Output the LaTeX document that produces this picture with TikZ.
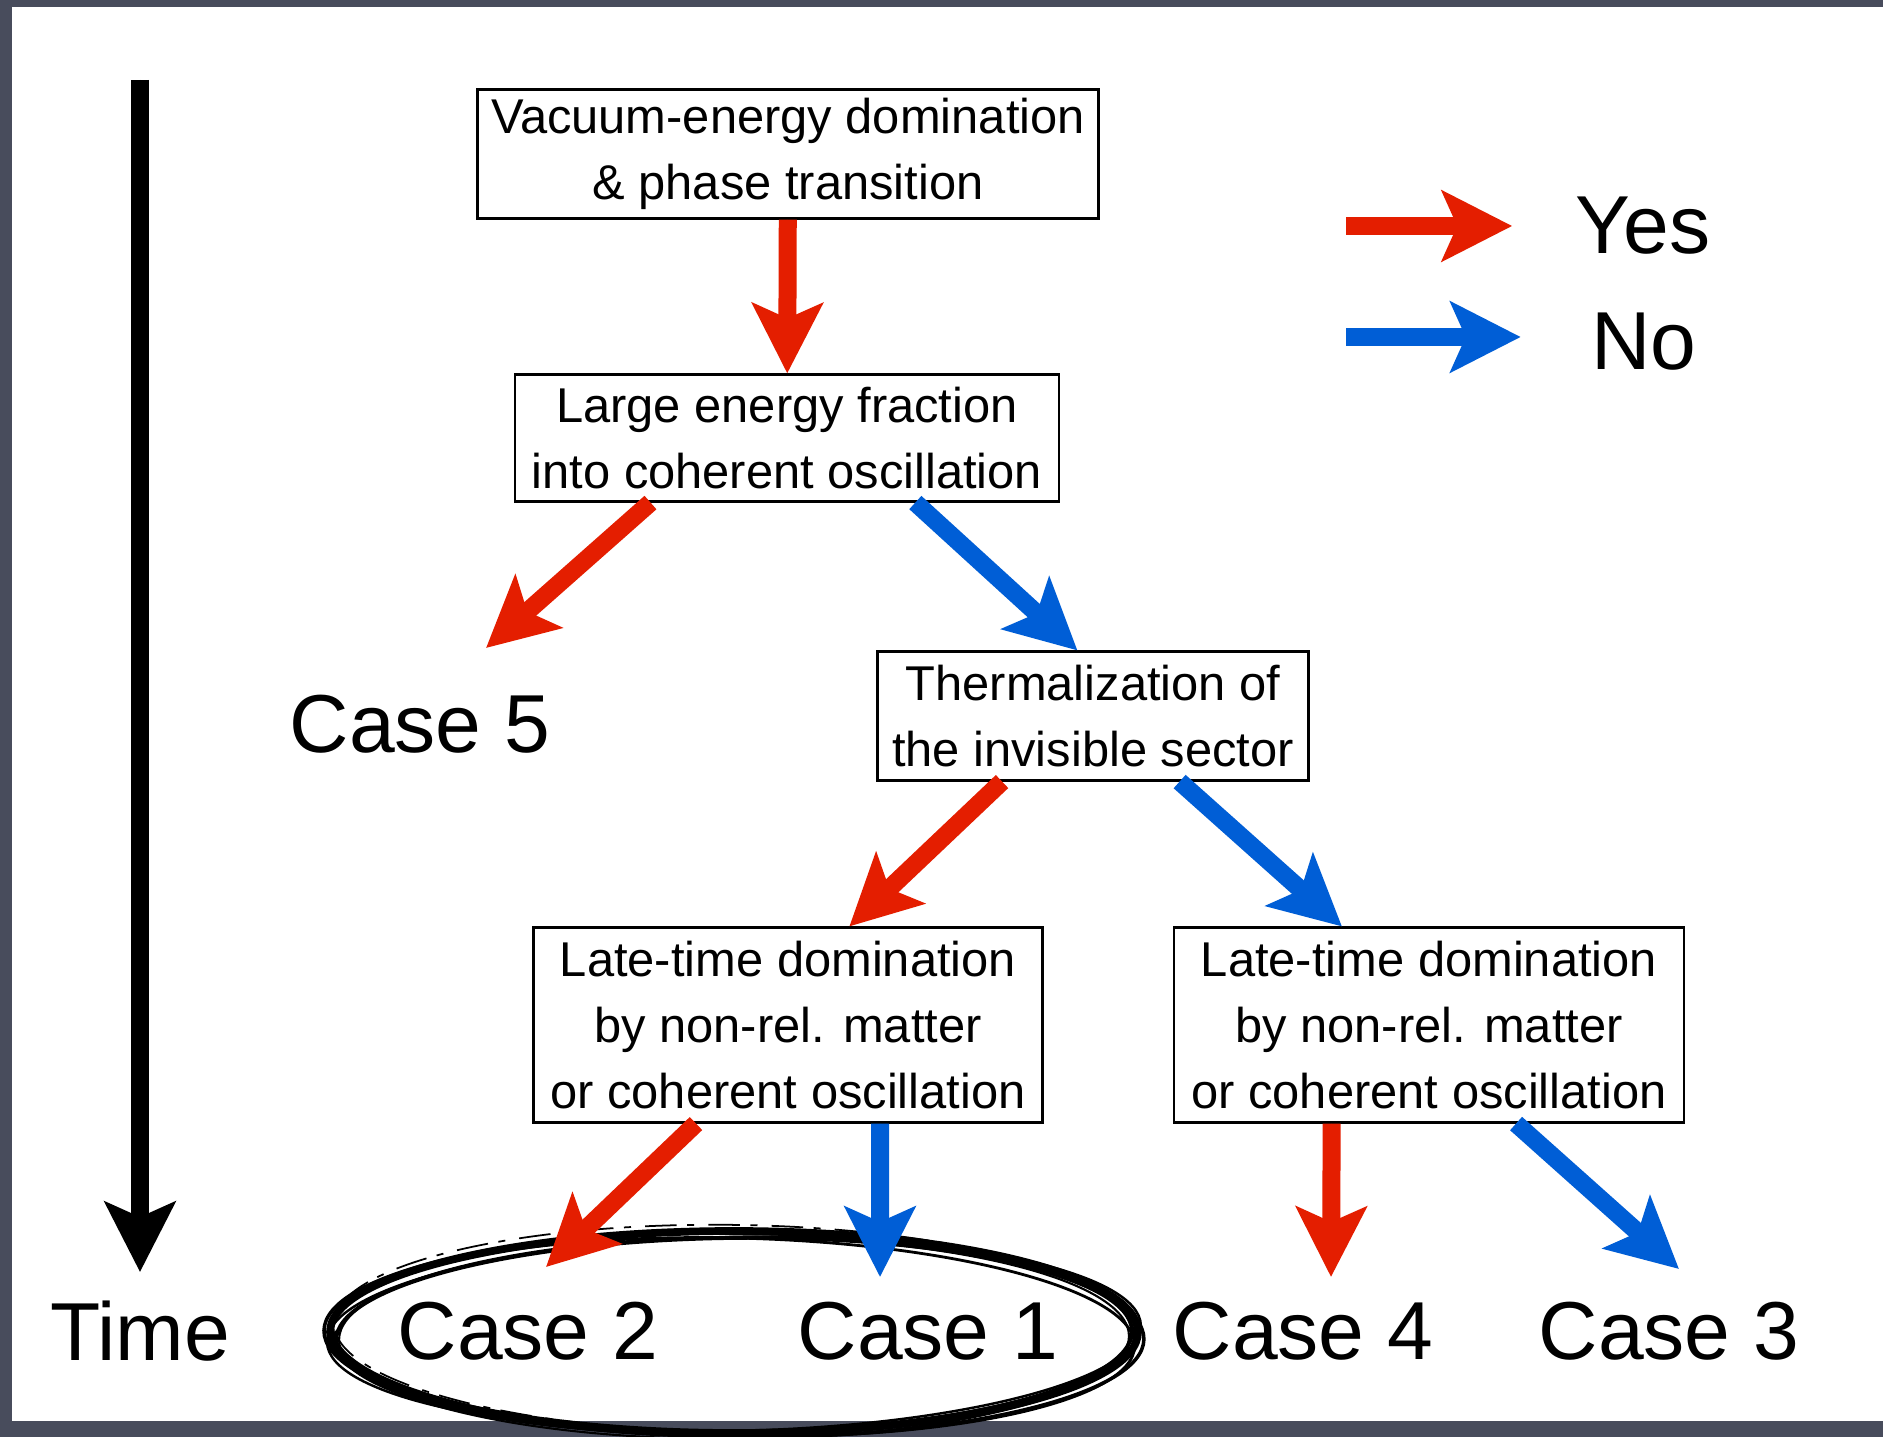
\documentclass[tikz,border=0pt]{standalone}
\usepackage{fontspec}
\setmainfont{Liberation Sans}
\usepackage{xcolor}
\usepackage{tikz}
\usetikzlibrary{arrows.meta, calc}
\definecolor{yesred}{RGB}{228,30,0}
\definecolor{noblue}{RGB}{0,94,214}
\definecolor{framegray}{RGB}{72,76,92}
\newcommand{\boxfont}{\fontsize{13.9pt}{18.8pt}\selectfont}
\newcommand{\casefont}{\fontsize{23.4pt}{28pt}\selectfont}
\tikzset{
    stepbox/.style={rectangle, draw=black, line width=0.6pt, align=center, font=\boxfont, inner sep=0pt},
    caselabel/.style={font=\casefont, inner sep=0pt},
    bigarrow/.style={line width=1.8mm, -{Stealth[length=7mm, width=7mm, inset=1.5mm]}},
    yesarrow/.style={bigarrow, draw=yesred, fill=yesred},
    noarrow/.style={bigarrow, draw=noblue, fill=noblue},
    timearrow/.style={bigarrow, draw=black, fill=black}
}

\begin{document}
\begin{tikzpicture}[x=0.1mm, y=-0.1mm]
    % frame and page
    \fill[framegray] (0,0) rectangle (1883,1437);
    \fill[white] (12,7) rectangle (1883,1421);
    \useasboundingbox (0,0) rectangle (1883,1437);

    % decision boxes
    \node (vacuum) [stepbox, minimum width=6.21cm, minimum height=1.29cm] at (788,154) {Vacuum-energy domination\\ \& phase transition};
    \node (fraction) [stepbox, minimum width=5.44cm, minimum height=1.27cm] at (787,438) {Large energy fraction\\ into coherent oscillation};
    \node (thermal) [stepbox, minimum width=4.31cm, minimum height=1.29cm] at (1093,716) {Thermalization of\\ the invisible sector};
    \node (lateyes) [stepbox, minimum width=5.09cm, minimum height=1.95cm] at (788,1025) {Late-time domination\\ by non-rel. matter\\ or coherent oscillation};
    \node (lateno) [stepbox, minimum width=5.10cm, minimum height=1.95cm] at (1429,1025) {Late-time domination\\ by non-rel. matter\\ or coherent oscillation};

    % outcomes
    \node (case5) [caselabel] at (420,724) {Case 5};
    \node (case2) [caselabel] at (528,1331) {Case 2};
    \node (case1) [caselabel] at (928,1331) {Case 1};
    \node (case4) [caselabel] at (1303,1331) {Case 4};
    \node (case3) [caselabel] at (1669,1331) {Case 3};
    \node (time) [caselabel] at (140,1331) {Time};

    % legend
    \node (yes) [caselabel] at (1643,226) {Yes};
    \node (no) [caselabel] at (1644,342) {No};
    \coordinate (yesfrom) at (1346,226);
    \coordinate (nofrom) at (1346,337);
    \draw [yesarrow, shorten >=6.3mm] (yesfrom) -- (yes.west);
    \draw [noarrow, shorten >=7mm] (nofrom) -- (no.west |- nofrom);

    % time axis
    \coordinate (timetop) at (140,80);
    \draw [timearrow, shorten >=2.8mm] (timetop) -- (time.north);

    % tips above the outcomes
    \coordinate (tip5) at (486,648);
    \coordinate (tip2) at (546,1267);
    \coordinate (tip1) at (880,1277);
    \coordinate (tip4) at (1331,1277);
    \coordinate (tip3) at (1679,1269);

    % rough ring round cases 1 and 2
    \coordinate (ring) at (734,1332);
    \foreach \dy/\rx/\ry/\rot/\w in {0/404/101/0/2.2, 4/398/98/0.7/1.1, 3/410/102/-0.6/1.0, 5/401/99/-1.3/0.8, 2/407/97/1.2/0.7, 6/395/101/0.3/0.6}
        \draw [line width=\w pt, rotate around={\rot:(ring)}] ($(ring)+(0,\dy)$) ellipse [x radius=\rx, y radius=\ry];
    \draw [line width=0.5pt, dash pattern=on 9pt off 3pt on 2pt off 4pt, rotate around={-0.8:(ring)}] ($(ring)+(0,-3)$) ellipse [x radius=400, y radius=104];

    % yes / no connectors
    \draw [yesarrow] (vacuum) -- (fraction);
    \draw [yesarrow] ($(fraction.south west)!0.25!(fraction.south east)$) -- (tip5);
    \draw [noarrow] ($(fraction.south west)!0.735!(fraction.south east)$) -- ($(thermal.north west)!0.464!(thermal.north east)$);
    \draw [yesarrow] ($(thermal.south west)!0.29!(thermal.south east)$) -- ($(lateyes.north west)!0.62!(lateyes.north east)$);
    \draw [noarrow] ($(thermal.south west)!0.70!(thermal.south east)$) -- ($(lateno.north west)!0.33!(lateno.north east)$);
    \draw [yesarrow] ($(lateyes.south west)!0.32!(lateyes.south east)$) -- (tip2);
    \draw [noarrow] ($(lateyes.south west)!0.68!(lateyes.south east)$) -- (tip1);
    \draw [yesarrow] ($(lateno.south west)!0.31!(lateno.south east)$) -- (tip4);
    \draw [noarrow] ($(lateno.south west)!0.67!(lateno.south east)$) -- (tip3);
\end{tikzpicture}
\end{document}
